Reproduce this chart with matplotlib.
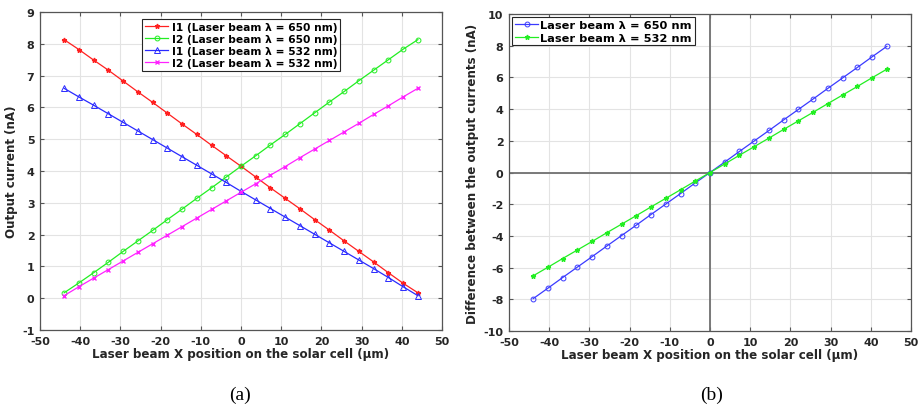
import matplotlib.pyplot as plt
import numpy as np

# x positions of the laser beam (um)
x_pos = [-44, -40.33, -36.67, -33, -29.33, -25.67, -22, -18.33, -14.67, -11, -7.33, -3.67, 0,
         3.67, 7.33, 11, 14.67, 18.33, 22, 25.67, 29.33, 33, 36.67, 40.33, 44]

i1_650 = [8.13, 7.82, 7.49, 7.17, 6.83, 6.49, 6.16, 5.82, 5.48, 5.15, 4.81, 4.48, 4.15,
          3.81, 3.47, 3.14, 2.81, 2.47, 2.14, 1.80, 1.47, 1.14, 0.80, 0.47, 0.17]
i2_650 = [0.17, 0.48, 0.80, 1.13, 1.47, 1.80, 2.13, 2.47, 2.80, 3.14, 3.47, 3.81, 4.15,
          4.48, 4.82, 5.15, 5.49, 5.83, 6.17, 6.50, 6.84, 7.17, 7.50, 7.83, 8.13]
i1_532 = [6.60, 6.33, 6.07, 5.80, 5.53, 5.26, 4.99, 4.72, 4.45, 4.18, 3.91, 3.64, 3.36,
          3.09, 2.82, 2.55, 2.28, 2.01, 1.74, 1.47, 1.20, 0.93, 0.65, 0.36, 0.08]
i2_532 = [0.08, 0.36, 0.63, 0.90, 1.17, 1.44, 1.71, 1.98, 2.25, 2.52, 2.79, 3.06, 3.33,
          3.60, 3.87, 4.14, 4.42, 4.69, 4.96, 5.23, 5.50, 5.78, 6.05, 6.33, 6.60]

diff_650 = [-7.96, -7.30, -6.63, -5.97, -5.31, -4.64, -3.98, -3.32, -2.65, -1.99, -1.33, -0.66, 0,
            0.66, 1.33, 1.99, 2.65, 3.32, 3.98, 4.64, 5.31, 5.97, 6.63, 7.30, 7.96]
diff_532 = [-6.52, -5.98, -5.43, -4.89, -4.35, -3.80, -3.26, -2.72, -2.17, -1.63, -1.09, -0.54, 0,
            0.54, 1.09, 1.63, 2.17, 2.72, 3.26, 3.80, 4.35, 4.89, 5.43, 5.98, 6.52]

plt.rcParams['font.family'] = ['DejaVu Sans']
plt.rcParams['font.weight'] = 'bold'
plt.rcParams['font.size'] = 8
plt.rcParams['axes.unicode_minus'] = False

W, H = 919, 406
fig = plt.figure(figsize=(W / 100, H / 100), dpi=100)

# axes positions in pixels (left, top, right, bottom)
ax1 = fig.add_axes([40 / W, 1 - 331 / H, (442 - 40) / W, (331 - 13) / H])
ax2 = fig.add_axes([509 / W, 1 - 332 / H, (911 - 509) / W, (332 - 15) / H])

axis_col = '#555555'
lab_size = 8.6


def style(ax):
    ax.grid(True, color='#e3e3e3', linewidth=0.8)
    ax.set_axisbelow(True)
    for s in ax.spines.values():
        s.set_color(axis_col)
        s.set_linewidth(0.9)
    ax.tick_params(direction='in', top=True, right=True, color=axis_col,
                   labelcolor='#262626', length=3, labelsize=8)
    ax.tick_params(axis='x', pad=4)
    ax.tick_params(axis='y', pad=4)
    for lab in ax.get_xticklabels() + ax.get_yticklabels():
        lab.set_fontweight('bold')


# (a) output currents
ax1.plot(x_pos, i1_650, color='#ff2020', marker='*', markersize=3.5, linewidth=0.9,
         label='I1 (Laser beam λ = 650 nm)')
ax1.plot(x_pos, i2_650, color='#22ee22', marker='o', markersize=3.5, markerfacecolor='none',
         markeredgewidth=0.7, linewidth=0.9, label='I2 (Laser beam λ = 650 nm)')
ax1.plot(x_pos, i1_532, color='#2a2aff', marker='^', markersize=4, markerfacecolor='none',
         markeredgewidth=0.7, linewidth=0.9, label='I1 (Laser beam λ = 532 nm)')
ax1.plot(x_pos, i2_532, color='#ff22ff', marker='x', markersize=3, linewidth=0.9,
         label='I2 (Laser beam λ = 532 nm)')
ax1.set_xlim(-50, 50)
ax1.set_ylim(-1, 9)
ax1.set_xticks(np.arange(-50, 60, 10))
ax1.set_yticks(np.arange(-1, 10, 1))
ax1.set_xlabel('Laser beam X position on the solar cell (μm)', fontsize=lab_size,
               fontweight='bold', color='#262626', labelpad=1)
ax1.set_ylabel('Output current (nA)', fontsize=lab_size, fontweight='bold', color='#262626',
               labelpad=3)
style(ax1)
leg1 = ax1.legend(loc='upper center', bbox_to_anchor=(0.5, 0.985),
                  prop={'weight': 'bold', 'size': 7.7}, frameon=True, fancybox=False,
                  borderpad=0.25, labelspacing=0.2, handlelength=2.2, handletextpad=0.3,
                  borderaxespad=0.2)
leg1.get_frame().set_edgecolor('#262626')
leg1.get_frame().set_linewidth(0.8)
leg1.get_frame().set_alpha(1)

# (b) difference between currents
ax2.axhline(0, color='#707070', linewidth=1.3, zorder=1)
ax2.axvline(0, color='#707070', linewidth=1.3, zorder=1)
ax2.plot(x_pos, diff_650, color='#3a3aff', marker='o', markersize=3.5, markerfacecolor='none',
         markeredgewidth=0.7, linewidth=0.9, label='Laser beam λ = 650 nm')
ax2.plot(x_pos, diff_532, color='#22ee22', marker='*', markersize=3.5, linewidth=0.9,
         label='Laser beam λ = 532 nm')
ax2.set_xlim(-50, 50)
ax2.set_ylim(-10, 10)
ax2.set_xticks(np.arange(-50, 60, 10))
ax2.set_yticks(np.arange(-10, 12, 2))
ax2.set_xlabel('Laser beam X position on the solar cell (μm)', fontsize=lab_size,
               fontweight='bold', color='#262626', labelpad=1)
ax2.set_ylabel('Difference between the output currents (nA)', fontsize=lab_size,
               fontweight='bold', color='#262626', labelpad=3)
style(ax2)
leg2 = ax2.legend(loc='upper left', prop={'weight': 'bold', 'size': 8.2},
                  frameon=True, fancybox=False, borderpad=0.25, labelspacing=0.2,
                  handlelength=2.0, handletextpad=0.2, borderaxespad=0.3)
leg2.get_frame().set_edgecolor('#262626')
leg2.get_frame().set_linewidth(0.8)
leg2.get_frame().set_alpha(1)

# sub-figure captions
fig.text(240 / W, 1 - 395 / H, '(a)', family='Liberation Serif', fontsize=14,
         fontweight='normal', ha='center', va='center')
fig.text(712 / W, 1 - 395 / H, '(b)', family='Liberation Serif', fontsize=14,
         fontweight='normal', ha='center', va='center')

plt.savefig('out.png', dpi=100)
